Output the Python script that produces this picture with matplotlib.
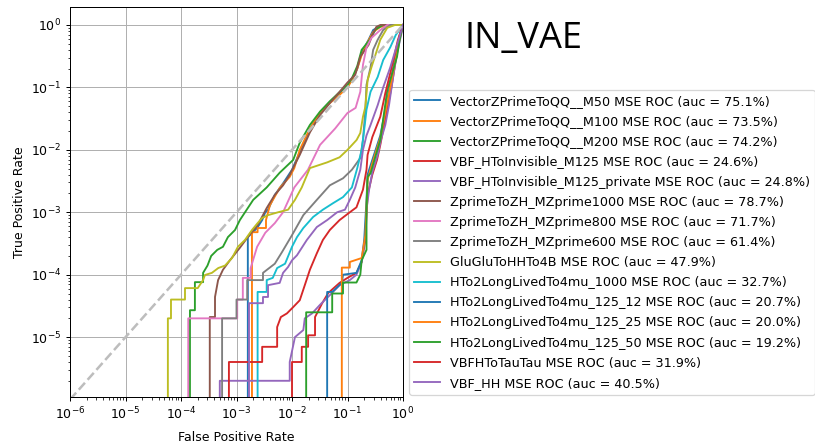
import matplotlib
matplotlib.use('Agg')
import matplotlib.pyplot as plt

# signal samples and their auc values (percent)
names = ['VectorZPrimeToQQ__M50', 'VectorZPrimeToQQ__M100', 'VectorZPrimeToQQ__M200',
         'VBF_HToInvisible_M125', 'VBF_HToInvisible_M125_private',
         'ZprimeToZH_MZprime1000', 'ZprimeToZH_MZprime800', 'ZprimeToZH_MZprime600',
         'GluGluToHHTo4B', 'HTo2LongLivedTo4mu_1000', 'HTo2LongLivedTo4mu_125_12',
         'HTo2LongLivedTo4mu_125_25', 'HTo2LongLivedTo4mu_125_50', 'VBFHToTauTau', 'VBF_HH']
auc = [75.1, 73.5, 74.2, 24.6, 24.8, 78.7, 71.7, 61.4, 47.9, 32.7, 20.7, 20.0, 19.2, 31.9, 40.5]

# roc points
fpr_m50 = [1.6e-3, 1.6e-3, 2.35e-3, 2.9e-3, 3.3e-3, 3.7e-3, 4.9e-3, 6.9e-3, 1.0e-2, 0.0138, 0.021, 0.032, 0.048, 0.072, 0.10, 0.12, 0.15, 0.18, 0.24, 0.29, 0.39, 0.54, 1.0]
tpr_m50 = [0, 4e-4, 5.6e-4, 7.5e-4, 1e-3, 1.1e-3, 1.9e-3, 2.9e-3, 4.8e-3, 9.2e-3, 0.021, 0.039, 0.058, 0.081, 0.105, 0.13, 0.2, 0.36, 0.58, 0.83, 0.96, 1.0, 1.0]

fpr_m100 = [1.9e-3, 1.9e-3, 2.4e-3, 2.4e-3, 3.4e-3, 3.4e-3, 4.0e-3, 6.0e-3, 9.1e-3, 0.011, 0.0138, 0.021, 0.032, 0.048, 0.072, 0.10, 0.12, 0.15, 0.18, 0.23, 0.29, 0.39, 0.59, 1.0]
tpr_m100 = [0, 4.8e-4, 4.8e-4, 5.6e-4, 5.6e-4, 7.5e-4, 1.3e-3, 2.45e-3, 3.7e-3, 5.1e-3, 0.01, 0.022, 0.039, 0.056, 0.076, 0.10, 0.13, 0.20, 0.33, 0.53, 0.77, 0.93, 1.0, 1.0]

fpr_m200 = [1.45e-4, 1.45e-4, 1.78e-4, 1.78e-4, 2.5e-4, 2.5e-4, 3.0e-4, 3.5e-4, 4.5e-4, 5.7e-4, 7.0e-4, 9.4e-4, 1.15e-3, 2.0e-3, 3.5e-3, 6.0e-3, 1.05e-2, 0.0138, 0.021, 0.032, 0.048, 0.072, 0.10, 0.12, 0.15, 0.18, 0.26, 0.32, 0.44, 1.0]
tpr_m200 = [0, 2.7e-5, 2.7e-5, 7.6e-5, 7.6e-5, 1.07e-4, 1.4e-4, 2.0e-4, 2.5e-4, 2.8e-4, 4.0e-4, 5.2e-4, 7.5e-4, 1.58e-3, 2.5e-3, 4.3e-3, 6.9e-3, 0.013, 0.025, 0.041, 0.06, 0.084, 0.11, 0.14, 0.22, 0.40, 0.60, 0.85, 1.0, 1.0]

fpr_inv = [1e-2, 1e-2, 0.015, 0.015, 0.0195, 0.0195, 0.026, 0.026, 0.035, 0.045, 0.072, 0.10, 0.145, 0.18, 0.21, 0.22, 0.23, 0.28, 0.34, 0.39, 0.44, 0.52, 0.63, 0.74, 0.87, 1.0]
tpr_inv = [0, 4e-6, 4e-6, 7e-6, 7e-6, 1.07e-5, 1.07e-5, 2.1e-5, 3.5e-5, 5.1e-5, 7.4e-5, 8.9e-5, 1.07e-4, 1.6e-4, 3.6e-4, 9e-4, 1.9e-3, 4e-3, 6.9e-3, 0.012, 0.021, 0.044, 0.11, 0.275, 0.69, 1.0]

fpr_inv_priv = [5e-4, 5e-4, 9.1e-3, 9.1e-3, 0.0113, 0.016, 0.017, 0.023, 0.032, 0.048, 0.072, 0.11, 0.145, 0.18, 0.21, 0.22, 0.245, 0.28, 0.35, 0.40, 0.48, 0.56, 0.65, 0.77, 0.95, 1.0]
tpr_inv_priv = [0, 2e-6, 2e-6, 4e-6, 1e-5, 1.3e-5, 2e-5, 2.4e-5, 3.3e-5, 4.7e-5, 6.8e-5, 8.2e-5, 1e-4, 1.6e-4, 4.3e-4, 1.1e-3, 2.3e-3, 4.4e-3, 8.3e-3, 0.0144, 0.025, 0.052, 0.13, 0.33, 0.77, 1.0]

fpr_zp1000 = [3.3e-4, 3.3e-4, 4.1e-4, 4.1e-4, 4.66e-4, 5.7e-4, 7.6e-4, 1.15e-3, 1.7e-3, 2.4e-3, 3.5e-3, 4.9e-3, 6.9e-3, 9.1e-3, 0.0138, 0.021, 0.032, 0.048, 0.072, 0.10, 0.138, 0.17, 0.24, 0.28, 0.33, 0.39, 1.0]
tpr_zp1000 = [0, 2.1e-5, 2.1e-5, 4.4e-5, 8.2e-5, 1.2e-4, 1.7e-4, 2.7e-4, 4.3e-4, 6.2e-4, 1.17e-3, 1.9e-3, 2.7e-3, 4e-3, 8.3e-3, 0.019, 0.036, 0.056, 0.085, 0.12, 0.16, 0.31, 0.48, 0.69, 0.93, 1.0, 1.0]

fpr_zp800 = [1.35e-4, 1.35e-4, 1.03e-3, 1.03e-3, 1.3e-3, 1.3e-3, 1.8e-3, 1.8e-3, 2.35e-3, 3.3e-3, 4.9e-3, 6.9e-3, 0.011, 0.0194, 0.032, 0.06, 0.10, 0.14, 0.17, 0.19, 0.22, 0.27, 0.39, 0.52, 1.0]
tpr_zp800 = [0, 2e-5, 2e-5, 4e-5, 4e-5, 8.9e-5, 8.9e-5, 1.28e-4, 2.8e-4, 4.7e-4, 6.7e-4, 1e-3, 2.5e-3, 4.8e-3, 0.012, 0.022, 0.039, 0.047, 0.085, 0.23, 0.44, 0.62, 0.83, 1.0, 1.0]

fpr_zp600 = [5.5e-4, 5.5e-4, 1.0e-3, 1.0e-3, 1.56e-3, 1.56e-3, 3.0e-3, 3.0e-3, 4.9e-3, 6.6e-3, 0.01, 0.016, 0.028, 0.048, 0.083, 0.12, 0.17, 0.19, 0.21, 0.22, 0.26, 0.29, 0.35, 0.44, 0.59, 1.0]
tpr_zp600 = [0, 2e-5, 2e-5, 4e-5, 4e-5, 8.2e-5, 8.2e-5, 1.07e-4, 1.5e-4, 2.3e-4, 4.3e-4, 9e-4, 1.58e-3, 2.7e-3, 3.5e-3, 4.8e-3, 7.4e-3, 0.0144, 0.044, 0.11, 0.21, 0.40, 0.58, 0.83, 1.0, 1.0]

fpr_hh4b = [5.8e-5, 5.8e-5, 6.6e-5, 6.6e-5, 1.18e-4, 1.18e-4, 2.0e-4, 2.5e-4, 2.7e-4, 3.6e-4, 4.7e-4, 6.2e-4, 8.3e-4, 1.06e-3, 1.42e-3, 1.9e-3, 2.4e-3, 2.9e-3, 3.7e-3, 5.6e-3, 8.5e-3, 0.0113, 0.015, 0.021, 0.043, 0.072, 0.10, 0.146, 0.17, 0.19, 0.21, 0.23, 0.27, 0.39, 0.52, 0.72, 1.0]
tpr_hh4b = [0, 2e-5, 2e-5, 4e-5, 4e-5, 6.1e-5, 6.1e-5, 8.2e-5, 9.9e-5, 1.07e-4, 1.28e-4, 1.4e-4, 1.85e-4, 2.8e-4, 3.6e-4, 5.2e-4, 6.7e-4, 8.1e-4, 9e-4, 1e-3, 1.1e-3, 1.58e-3, 2.5e-3, 5.1e-3, 6.3e-3, 7.6e-3, 0.01, 0.0144, 0.0186, 0.034, 0.049, 0.13, 0.21, 0.58, 0.9, 1.0, 1.0]

fpr_ll1000 = [2.4e-3, 2.4e-3, 3.5e-3, 3.5e-3, 4.5e-3, 5.4e-3, 7.5e-3, 0.01, 0.0123, 0.016, 0.024, 0.036, 0.055, 0.083, 0.12, 0.15, 0.18, 0.20, 0.22, 0.26, 0.35, 0.44, 0.59, 0.74, 1.0]
tpr_ll1000 = [0, 5.3e-5, 5.3e-5, 8.2e-5, 8.9e-5, 1.28e-4, 1.5e-4, 2.8e-4, 4e-4, 5.6e-4, 8.4e-4, 1.1e-3, 1.4e-3, 1.75e-3, 2.5e-3, 5.1e-3, 0.01, 0.021, 0.044, 0.085, 0.147, 0.275, 0.44, 0.69, 1.0]

fpr_ll12 = [0.043, 0.043, 0.053, 0.079, 0.083, 0.145, 0.18, 0.20, 0.22, 0.23, 0.28, 0.39, 0.52, 0.68, 0.84, 1.0]
tpr_ll12 = [0, 5.3e-5, 5.3e-5, 7.4e-5, 1e-4, 1.07e-4, 1.7e-4, 3.6e-4, 1.58e-3, 4e-3, 6.9e-3, 0.017, 0.063, 0.23, 0.58, 1.0]

fpr_ll25 = [0.079, 0.079, 0.11, 0.11, 0.18, 0.21, 0.22, 0.23, 0.28, 0.39, 0.54, 0.72, 0.87, 1.0]
tpr_ll25 = [0, 1.3e-4, 1.3e-4, 1.6e-4, 1.85e-4, 4.3e-4, 1.3e-3, 3.3e-3, 6.1e-3, 0.0155, 0.068, 0.255, 0.62, 1.0]

fpr_ll50 = [0.018, 0.018, 0.053, 0.053, 0.083, 0.083, 0.145, 0.17, 0.18, 0.22, 0.22, 0.23, 0.26, 0.39, 0.52, 0.78, 0.87, 1.0]
tpr_ll50 = [0, 2.5e-5, 2.5e-5, 5e-5, 5e-5, 7.5e-5, 7.5e-5, 1e-4, 1.7e-4, 2.5e-4, 1.1e-3, 3.7e-3, 4.2e-3, 0.0144, 0.09, 0.31, 0.58, 1.0]

fpr_tautau = [7.3e-4, 7.3e-4, 2.9e-3, 2.9e-3, 5.4e-3, 5.4e-3, 6.3e-3, 8.1e-3, 0.0104, 0.0138, 0.017, 0.021, 0.028, 0.036, 0.048, 0.072, 0.11, 0.145, 0.19, 0.22, 0.23, 0.28, 0.39, 0.48, 0.59, 0.72, 0.81, 1.0]
tpr_tautau = [0, 4e-6, 4e-6, 7e-6, 7e-6, 1.45e-5, 2.1e-5, 2.4e-5, 3e-5, 3.9e-5, 6.8e-5, 1.2e-4, 2.2e-4, 3.6e-4, 5.2e-4, 7.5e-4, 1e-3, 1.2e-3, 2.3e-3, 4.8e-3, 8.3e-3, 0.016, 0.034, 0.081, 0.17, 0.36, 0.58, 1.0]

fpr_vbfhh = [1.68e-3, 1.68e-3, 3.0e-3, 3.0e-3, 3.7e-3, 3.7e-3, 6.0e-3, 6.9e-3, 8.5e-3, 0.01, 0.0123, 0.0185, 0.028, 0.043, 0.065, 0.09, 0.11, 0.138, 0.17, 0.19, 0.22, 0.26, 0.35, 0.44, 0.59, 0.78, 1.0]
tpr_vbfhh = [0, 3.5e-5, 3.5e-5, 4.4e-5, 4.4e-5, 6.8e-5, 7.4e-5, 1.07e-4, 1.33e-4, 1.7e-4, 2.05e-4, 3.6e-4, 5.8e-4, 7.5e-4, 1e-3, 1.1e-3, 1.58e-3, 2.5e-3, 4.8e-3, 0.01, 0.017, 0.025, 0.052, 0.10, 0.21, 0.48, 1.0]

fprs = [fpr_m50, fpr_m100, fpr_m200, fpr_inv, fpr_inv_priv, fpr_zp1000, fpr_zp800, fpr_zp600,
        fpr_hh4b, fpr_ll1000, fpr_ll12, fpr_ll25, fpr_ll50, fpr_tautau, fpr_vbfhh]
tprs = [tpr_m50, tpr_m100, tpr_m200, tpr_inv, tpr_inv_priv, tpr_zp1000, tpr_zp800, tpr_zp600,
        tpr_hh4b, tpr_ll1000, tpr_ll12, tpr_ll25, tpr_ll50, tpr_tautau, tpr_vbfhh]

# random-guess line
chance = [1e-6, 1.0]

dpi = 90
fig = plt.figure(figsize=(815 / dpi, 443 / dpi), dpi=dpi)
ax = fig.add_axes([70 / 815, 1 - 397 / 443, 333 / 815, 390 / 443])

for i, name in enumerate(names):
    ax.plot(fprs[i], tprs[i], label=name + ' MSE ROC (auc = ' + str(auc[i]) + '%)')

ax.plot(chance, chance, '--', color='#bdbdbd', linewidth=2)

ax.set_xscale('log')
ax.set_yscale('log')
ax.set_xlim(1e-6, 1)
ax.set_ylim(1.1e-6, 1.94)
ax.set_xlabel('False Positive Rate', labelpad=7)
ax.set_ylabel('True Positive Rate')
ax.grid(True)
ax.legend(loc='lower left', bbox_to_anchor=(409 / 815, 1 - 395 / 443), bbox_transform=fig.transFigure,
          borderaxespad=0, fontsize=10.2, labelspacing=0.56)

fig.text(523 / 815, 1 - 39 / 443, 'IN_VAE', fontsize=29, family=['Open Sans', 'DejaVu Sans'],
         ha='center', va='center')

fig.savefig('out.png', dpi=dpi)
